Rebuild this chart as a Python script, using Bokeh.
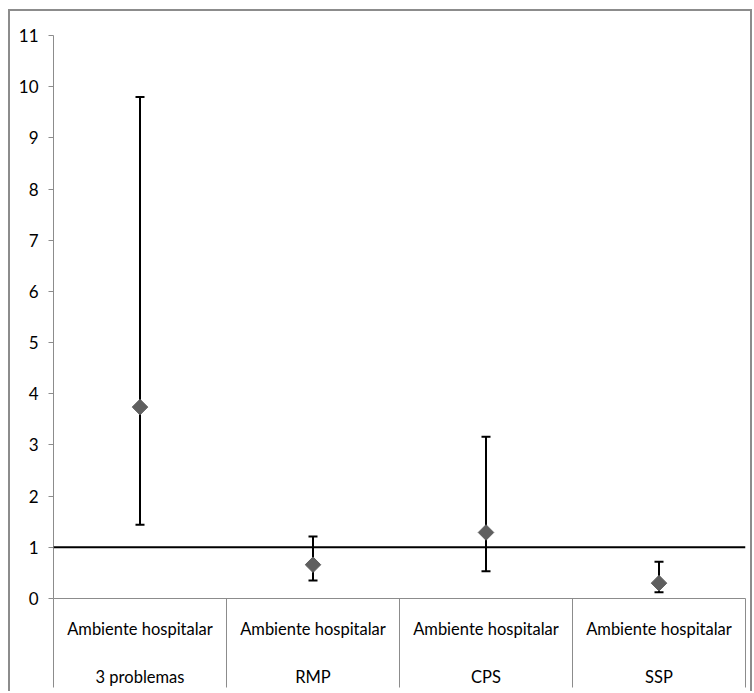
import math
from bokeh.plotting import figure
from bokeh.models import FixedTicker, Span, Whisker, ColumnDataSource, TeeHead, Range1d
from bokeh.embed import file_html
from bokeh.resources import INLINE

categories = ["Ambiente hospitalar\n3 problemas", "Ambiente hospitalar\nRMP",
              "Ambiente hospitalar\nCPS", "Ambiente hospitalar\nSSP"]
estimate = [3.74, 0.66, 1.29, 0.30]
lower = [1.44, 0.35, 0.53, 0.12]
upper = [9.80, 1.21, 3.16, 0.72]
y_ticks = list(range(0, 12))
reference = 1

xpos = [i + 0.5 for i in range(len(categories))]
src = ColumnDataSource(dict(x=xpos, est=estimate, lo=lower, hi=upper))

FONT = "Lato"
GRAY = "#8c8c8c"

p = figure(width=744, height=682, output_backend="svg", toolbar_location=None,
           x_range=Range1d(0, len(categories)), y_range=Range1d(0, 11),
           min_border_left=43, min_border_right=9, min_border_top=24, min_border_bottom=95,
           margin=(9, 0, 0, 8),
           styles={"border-left": "2px solid #8c8c8c", "border-top": "2px solid #8c8c8c",
                   "border-right": "2px solid #8c8c8c"})
p.outline_line_color = None
p.xgrid.visible = False
p.ygrid.visible = False

# y axis
p.yaxis.ticker = FixedTicker(ticks=y_ticks)
p.yaxis.axis_line_color = GRAY
p.yaxis.major_tick_line_color = GRAY
p.yaxis.major_tick_in = 0
p.yaxis.major_tick_out = 5
p.yaxis.minor_tick_line_color = None
p.yaxis.major_label_standoff = 10
p.yaxis.major_label_text_font = FONT
p.yaxis.major_label_text_font_size = "17px"
p.yaxis.major_label_text_color = "#000000"

# x axis: labels at centers, dividers as minor ticks at boundaries
p.xaxis.ticker = FixedTicker(ticks=xpos, minor_ticks=list(range(len(categories) + 1)))
p.xaxis.major_label_overrides = {x: c for x, c in zip(xpos, categories)}
p.xaxis.axis_line_color = GRAY
p.xaxis.major_tick_line_color = None
p.xaxis.major_tick_in = 0
p.xaxis.major_tick_out = 0
p.xaxis.minor_tick_line_color = GRAY
p.xaxis.minor_tick_in = 0
p.xaxis.minor_tick_out = 89
p.xaxis.major_label_standoff = -69
p.xaxis.major_label_text_font = FONT
p.xaxis.major_label_text_font_size = "16.5px"
p.xaxis.major_label_text_color = "#000000"
p.xaxis.major_label_text_line_height = 2.4

# reference line
p.add_layout(Span(location=reference, dimension="width", line_color="black", line_width=2))

# error bars
w = Whisker(source=src, base="x", lower="lo", upper="hi", dimension="height",
            line_color="black", line_width=2,
            lower_head=TeeHead(size=9, line_color="black", line_width=2),
            upper_head=TeeHead(size=9, line_color="black", line_width=2))
p.add_layout(w)

p.scatter("x", "est", source=src, marker="square", angle=math.pi / 4, size=11,
          fill_color="#5f5f5f", line_color="#5f5f5f")

open("out.html", "w").write(file_html(p, INLINE))
